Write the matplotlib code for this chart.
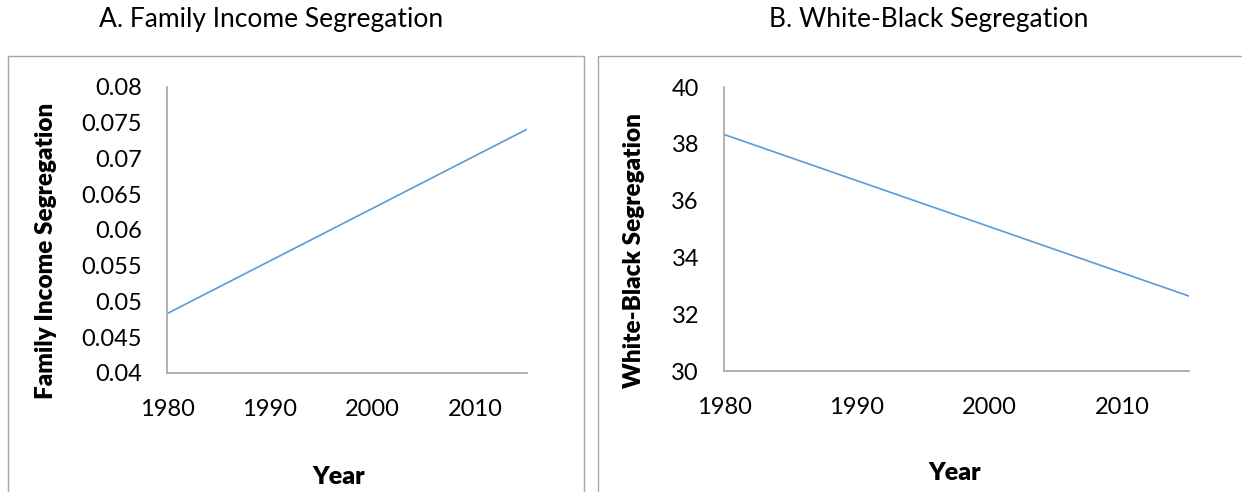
import matplotlib
matplotlib.use("Agg")
import matplotlib.pyplot as plt
from matplotlib.patches import Rectangle

# data
years = [1980, 2015]
income_seg = [0.0483, 0.0741]
wb_seg = [38.33, 32.64]

x_ticks = [1980, 1990, 2000, 2010]
income_ticks = [0.04, 0.045, 0.05, 0.055, 0.06, 0.065, 0.07, 0.075, 0.08]
income_labels = ["0.04", "0.045", "0.05", "0.055", "0.06", "0.065", "0.07", "0.075", "0.08"]
wb_ticks = [30, 32, 34, 36, 38, 40]
wb_labels = ["30", "32", "34", "36", "38", "40"]

plt.rcParams["font.family"] = ["Lato", "DejaVu Sans"]

LINE = "#5B9BD5"
AXIS = "#A6A6A6"
BOX = "#A6A6A6"


def style_axes(ax, yticks, ylabels, ylim):
    ax.set_xlim(1980, 2015)
    ax.set_ylim(*ylim)
    ax.set_xticks(x_ticks)
    ax.set_xticklabels([str(t) for t in x_ticks])
    ax.set_yticks(yticks)
    ax.set_yticklabels(ylabels)
    for side in ("top", "right"):
        ax.spines[side].set_visible(False)
    for side in ("left", "bottom"):
        ax.spines[side].set_color(AXIS)
        ax.spines[side].set_linewidth(1.2)
    ax.tick_params(axis="both", length=0, labelsize=17, colors="black")
    ax.tick_params(axis="y", pad=18)
    ax.tick_params(axis="x", pad=19)
    ax.patch.set_alpha(0)


fig = plt.figure(figsize=(12.42, 4.92), dpi=100)

# outer chart boxes
fig.add_artist(Rectangle((7.5 / 1242, -0.1), (584 - 7.5) / 1242, 1 - 56 / 492 + 0.1,
                         transform=fig.transFigure, fill=False, edgecolor=BOX, linewidth=1))
fig.add_artist(Rectangle((598 / 1242, -0.1), 0.6, 1 - 56 / 492 + 0.1,
                         transform=fig.transFigure, fill=False, edgecolor=BOX, linewidth=1))

# panel A
ax1 = fig.add_axes([0.1345, 0.2419, 0.2899, 0.5813])
ax1.plot(years, income_seg, color=LINE, linewidth=1.2)
style_axes(ax1, income_ticks, income_labels, (0.04, 0.08))
ax1.set_ylabel("Family Income Segregation", fontsize=17.5, fontweight="heavy")
ax1.yaxis.set_label_coords(-0.336, 0.427)
ax1.set_xlabel("Year", fontsize=18, fontweight="heavy")
ax1.xaxis.set_label_coords(0.478, -0.364)
ax1.xaxis.label.set_va("center")
ax1.yaxis.label.set_va("center")

# panel B
ax2 = fig.add_axes([0.5829, 0.2459, 0.3744, 0.5772])
ax2.plot(years, wb_seg, color=LINE, linewidth=1.2)
style_axes(ax2, wb_ticks, wb_labels, (30, 40))
ax2.set_ylabel("White-Black Segregation", fontsize=17.5, fontweight="heavy")
ax2.yaxis.set_label_coords(-0.194, 0.423)
ax2.set_xlabel("Year", fontsize=18, fontweight="heavy")
ax2.xaxis.set_label_coords(0.497, -0.359)
ax2.xaxis.label.set_va("center")
ax2.yaxis.label.set_va("center")

fig.text(271 / 1242, 1 - 20 / 492, "A. Family Income Segregation", ha="center", va="center", fontsize=19)
fig.text(929 / 1242, 1 - 20 / 492, "B. White-Black Segregation", ha="center", va="center", fontsize=19)

fig.savefig("out.png", dpi=100)
plt.close(fig)
